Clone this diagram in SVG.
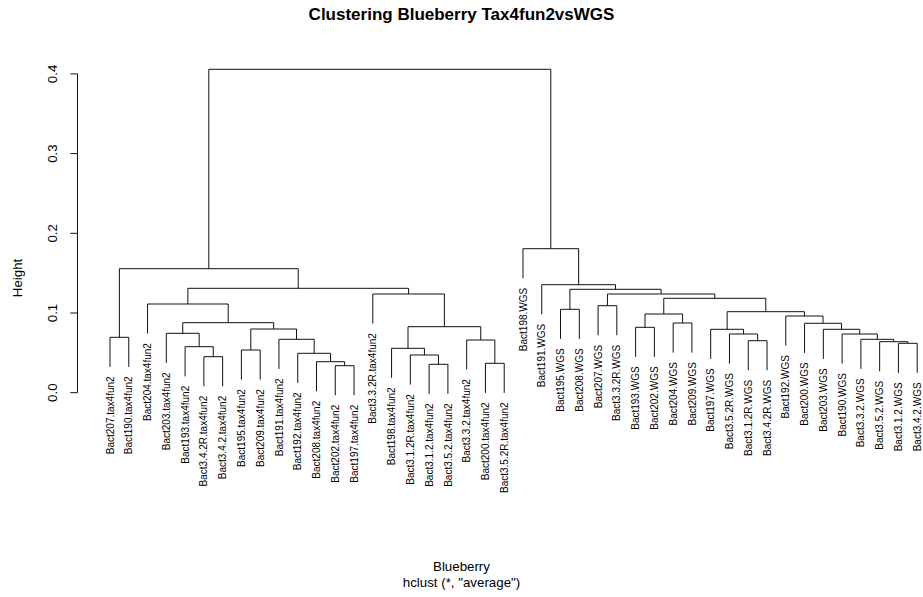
<svg xmlns="http://www.w3.org/2000/svg" width="923" height="597" viewBox="0 0 923 597">
  <style>
    text { font-family: "Liberation Sans", Arial, sans-serif; fill: #000; }
    .title { font-size: 17px; font-weight: bold; text-anchor: middle; }
    .axlab { font-size: 13.3px; text-anchor: middle; }
    .tick { font-size: 13.3px; text-anchor: middle; }
    .leaf text { font-size: 10px; text-anchor: end; }
    .edges path, .axis path { fill: none; stroke: #111; stroke-width: 1; }
  </style>
  <rect width="923" height="597" fill="#fff"/>

  <!-- title and axis captions -->
  <text class="title" x="461.5" y="20">Clustering Blueberry Tax4fun2vsWGS</text>
  <text class="axlab" x="461.5" y="571">Blueberry</text>
  <text class="axlab" x="461.5" y="587">hclust (*, "average")</text>
  <text class="axlab" transform="translate(21.5,278) rotate(-90)">Height</text>

  <!-- height axis -->
  <g class="axis">
    <path d="M77.5 392.7 V73.9 M70.3 392.7 H77.5 M70.3 313 H77.5 M70.3 233.3 H77.5 M70.3 153.6 H77.5 M70.3 73.9 H77.5"/>
    <text class="tick" transform="translate(56.5,392.7) rotate(-90)">0.0</text>
    <text class="tick" transform="translate(56.5,313) rotate(-90)">0.1</text>
    <text class="tick" transform="translate(56.5,233.3) rotate(-90)">0.2</text>
    <text class="tick" transform="translate(56.5,153.6) rotate(-90)">0.3</text>
    <text class="tick" transform="translate(56.5,73.9) rotate(-90)">0.4</text>
  </g>

  <!-- merge connectors -->
  <g class="edges" id="connectors">
    <path d="M110 366.9 V337.3 H128.77 V366.9"/>
    <path d="M203.86 386.3 V356.7 H222.63 V386.3"/>
    <path d="M185.09 376.3 V346.7 H213.25 V356.7"/>
    <path d="M166.32 362.9 V333.3 H199.17 V346.7"/>
    <path d="M241.40 379.6 V350 H260.18 V379.6"/>
    <path d="M335.26 395.3 V365.7 H354.04 V395.3"/>
    <path d="M316.49 391.3 V361.7 H344.65 V365.7"/>
    <path d="M297.72 382.9 V353.3 H330.57 V361.7"/>
    <path d="M278.95 368.9 V339.3 H314.15 V353.3"/>
    <path d="M250.79 350 V329 H296.55 V339.3"/>
    <path d="M182.74 333.3 V322.7 H273.67 V329"/>
    <path d="M147.54 333.6 V304 H228.21 V322.7"/>
    <path d="M429.12 393.9 V364.3 H447.90 V393.9"/>
    <path d="M410.35 384.6 V355 H438.51 V364.3"/>
    <path d="M391.58 377.9 V348.3 H424.43 V355"/>
    <path d="M485.44 392.9 V363.3 H504.21 V392.9"/>
    <path d="M466.67 369.6 V340 H494.83 V363.3"/>
    <path d="M408.01 348.3 V326.7 H480.75 V340"/>
    <path d="M372.81 323.6 V294 H444.38 V326.7"/>
    <path d="M187.87 304 V288.3 H408.60 V294"/>
    <path d="M119.39 337.3 V268.7 H298.23 V288.3"/>
    <path d="M560.53 338.9 V309.3 H579.30 V338.9"/>
    <path d="M598.07 335.3 V305.7 H616.84 V335.3"/>
    <path d="M635.62 356.9 V327.3 H654.39 V356.9"/>
    <path d="M673.16 352.6 V323 H691.93 V352.6"/>
    <path d="M645.00 327.3 V314 H682.55 V323"/>
    <path d="M748.25 370.3 V340.7 H767.02 V370.3"/>
    <path d="M729.48 363.6 V334 H757.63 V340.7"/>
    <path d="M710.70 358.9 V329.3 H743.56 V334"/>
    <path d="M898.42 372.9 V343.3 H917.20 V372.9"/>
    <path d="M879.65 371.3 V341.7 H907.81 V343.3"/>
    <path d="M860.88 368.9 V339.3 H893.73 V341.7"/>
    <path d="M842.11 363.6 V334 H877.30 V339.3"/>
    <path d="M823.34 358.9 V329.3 H859.71 V334"/>
    <path d="M804.56 352.9 V323.3 H841.52 V329.3"/>
    <path d="M785.79 345.6 V316 H823.04 V323.3"/>
    <path d="M727.13 329.3 V311.7 H804.42 V316"/>
    <path d="M663.77 314 V298.3 H765.77 V311.7"/>
    <path d="M607.46 305.7 V294 H714.77 V298.3"/>
    <path d="M569.92 309.3 V289.3 H661.11 V294"/>
    <path d="M541.76 314.3 V284.7 H615.52 V289.3"/>
    <path d="M522.98 278.3 V248.7 H578.64 V284.7"/>
    <path d="M208.81 268.7 V69.3 H550.81 V248.7"/>
  </g>

  <!-- leaf labels -->
  <g class="leaf" id="leaf-Bact207-tax4fun2"><text transform="translate(113.6,376.4) rotate(-90)">Bact207.tax4fun2</text></g>
  <g class="leaf" id="leaf-Bact190-tax4fun2"><text transform="translate(132.37,376.4) rotate(-90)">Bact190.tax4fun2</text></g>
  <g class="leaf" id="leaf-Bact204-tax4fun2"><text transform="translate(151.14,343.1) rotate(-90)">Bact204.tax4fun2</text></g>
  <g class="leaf" id="leaf-Bact203-tax4fun2"><text transform="translate(169.92,372.4) rotate(-90)">Bact203.tax4fun2</text></g>
  <g class="leaf" id="leaf-Bact193-tax4fun2"><text transform="translate(188.69,385.8) rotate(-90)">Bact193.tax4fun2</text></g>
  <g class="leaf" id="leaf-Bact3.4.2R-tax4fun2"><text transform="translate(207.46,395.8) rotate(-90)">Bact3.4.2R.tax4fun2</text></g>
  <g class="leaf" id="leaf-Bact3.4.2-tax4fun2"><text transform="translate(226.23,395.8) rotate(-90)">Bact3.4.2.tax4fun2</text></g>
  <g class="leaf" id="leaf-Bact195-tax4fun2"><text transform="translate(245.00,389.1) rotate(-90)">Bact195.tax4fun2</text></g>
  <g class="leaf" id="leaf-Bact209-tax4fun2"><text transform="translate(263.78,389.1) rotate(-90)">Bact209.tax4fun2</text></g>
  <g class="leaf" id="leaf-Bact191-tax4fun2"><text transform="translate(282.55,378.4) rotate(-90)">Bact191.tax4fun2</text></g>
  <g class="leaf" id="leaf-Bact192-tax4fun2"><text transform="translate(301.32,392.4) rotate(-90)">Bact192.tax4fun2</text></g>
  <g class="leaf" id="leaf-Bact208-tax4fun2"><text transform="translate(320.09,400.8) rotate(-90)">Bact208.tax4fun2</text></g>
  <g class="leaf" id="leaf-Bact202-tax4fun2"><text transform="translate(338.86,404.8) rotate(-90)">Bact202.tax4fun2</text></g>
  <g class="leaf" id="leaf-Bact197-tax4fun2"><text transform="translate(357.64,404.8) rotate(-90)">Bact197.tax4fun2</text></g>
  <g class="leaf" id="leaf-Bact3.3.2R-tax4fun2"><text transform="translate(376.41,333.1) rotate(-90)">Bact3.3.2R.tax4fun2</text></g>
  <g class="leaf" id="leaf-Bact198-tax4fun2"><text transform="translate(395.18,387.4) rotate(-90)">Bact198.tax4fun2</text></g>
  <g class="leaf" id="leaf-Bact3.1.2R-tax4fun2"><text transform="translate(413.95,394.1) rotate(-90)">Bact3.1.2R.tax4fun2</text></g>
  <g class="leaf" id="leaf-Bact3.1.2-tax4fun2"><text transform="translate(432.72,403.4) rotate(-90)">Bact3.1.2.tax4fun2</text></g>
  <g class="leaf" id="leaf-Bact3.5.2-tax4fun2"><text transform="translate(451.50,403.4) rotate(-90)">Bact3.5.2.tax4fun2</text></g>
  <g class="leaf" id="leaf-Bact3.3.2-tax4fun2"><text transform="translate(470.27,379.1) rotate(-90)">Bact3.3.2.tax4fun2</text></g>
  <g class="leaf" id="leaf-Bact200-tax4fun2"><text transform="translate(489.04,402.4) rotate(-90)">Bact200.tax4fun2</text></g>
  <g class="leaf" id="leaf-Bact3.5.2R-tax4fun2"><text transform="translate(507.81,402.4) rotate(-90)">Bact3.5.2R.tax4fun2</text></g>
  <g class="leaf" id="leaf-Bact198-WGS"><text transform="translate(526.58,287.8) rotate(-90)">Bact198.WGS</text></g>
  <g class="leaf" id="leaf-Bact191-WGS"><text transform="translate(545.36,323.8) rotate(-90)">Bact191.WGS</text></g>
  <g class="leaf" id="leaf-Bact195-WGS"><text transform="translate(564.13,348.4) rotate(-90)">Bact195.WGS</text></g>
  <g class="leaf" id="leaf-Bact208-WGS"><text transform="translate(582.90,348.4) rotate(-90)">Bact208.WGS</text></g>
  <g class="leaf" id="leaf-Bact207-WGS"><text transform="translate(601.67,344.8) rotate(-90)">Bact207.WGS</text></g>
  <g class="leaf" id="leaf-Bact3.3.2R-WGS"><text transform="translate(620.44,344.8) rotate(-90)">Bact3.3.2R.WGS</text></g>
  <g class="leaf" id="leaf-Bact193-WGS"><text transform="translate(639.22,366.4) rotate(-90)">Bact193.WGS</text></g>
  <g class="leaf" id="leaf-Bact202-WGS"><text transform="translate(657.99,366.4) rotate(-90)">Bact202.WGS</text></g>
  <g class="leaf" id="leaf-Bact204-WGS"><text transform="translate(676.76,362.1) rotate(-90)">Bact204.WGS</text></g>
  <g class="leaf" id="leaf-Bact209-WGS"><text transform="translate(695.53,362.1) rotate(-90)">Bact209.WGS</text></g>
  <g class="leaf" id="leaf-Bact197-WGS"><text transform="translate(714.30,368.4) rotate(-90)">Bact197.WGS</text></g>
  <g class="leaf" id="leaf-Bact3.5.2R-WGS"><text transform="translate(733.08,373.1) rotate(-90)">Bact3.5.2R.WGS</text></g>
  <g class="leaf" id="leaf-Bact3.1.2R-WGS"><text transform="translate(751.85,379.8) rotate(-90)">Bact3.1.2R.WGS</text></g>
  <g class="leaf" id="leaf-Bact3.4.2R-WGS"><text transform="translate(770.62,379.8) rotate(-90)">Bact3.4.2R.WGS</text></g>
  <g class="leaf" id="leaf-Bact192-WGS"><text transform="translate(789.39,355.1) rotate(-90)">Bact192.WGS</text></g>
  <g class="leaf" id="leaf-Bact200-WGS"><text transform="translate(808.16,362.4) rotate(-90)">Bact200.WGS</text></g>
  <g class="leaf" id="leaf-Bact203-WGS"><text transform="translate(826.94,368.4) rotate(-90)">Bact203.WGS</text></g>
  <g class="leaf" id="leaf-Bact190-WGS"><text transform="translate(845.71,373.1) rotate(-90)">Bact190.WGS</text></g>
  <g class="leaf" id="leaf-Bact3.3.2-WGS"><text transform="translate(864.48,378.4) rotate(-90)">Bact3.3.2.WGS</text></g>
  <g class="leaf" id="leaf-Bact3.5.2-WGS"><text transform="translate(883.25,380.8) rotate(-90)">Bact3.5.2.WGS</text></g>
  <g class="leaf" id="leaf-Bact3.1.2-WGS"><text transform="translate(902.02,382.4) rotate(-90)">Bact3.1.2.WGS</text></g>
  <g class="leaf" id="leaf-Bact3.4.2-WGS"><text transform="translate(920.80,382.4) rotate(-90)">Bact3.4.2.WGS</text></g>
</svg>
